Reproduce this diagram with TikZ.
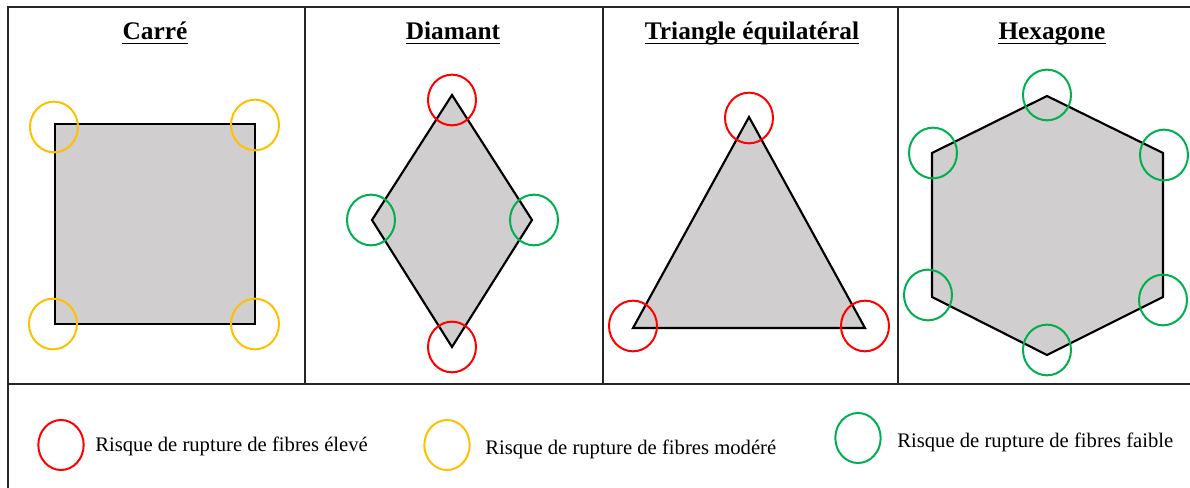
\documentclass[tikz,border=0pt]{standalone}
\usepackage{fontspec}
\setmainfont{Liberation Serif}
\usepackage{xcolor}
\usepackage{tikz}
\usetikzlibrary{shapes.geometric, positioning}

\definecolor{riskred}{HTML}{FF0000}
\definecolor{riskyellow}{HTML}{FFC000}
\definecolor{riskgreen}{HTML}{00B050}
\definecolor{shapegray}{HTML}{D0CECE}

\begin{document}
\begin{tikzpicture}[
    x=0.75pt, y=-0.75pt,
    grid/.style={line width=1.1pt, black!85},
    title/.style={anchor=base, inner sep=0pt, font=\fontsize{19}{22}\selectfont\bfseries},
    uline/.style={line width=1.3pt},
    legtext/.style={anchor=base west, font=\fontsize{15.5}{18}\selectfont, inner sep=0pt},
    fibre/.style={fill=shapegray, draw=black, line width=1.6pt, line join=miter},
    marker/.style={ellipse, line width=1.5pt, inner sep=0pt, minimum width=36pt, minimum height=38pt},
    high/.style={marker, draw=riskred},
    mid/.style={marker, draw=riskyellow},
    low/.style={marker, draw=riskgreen},
    legmark/.style={ellipse, line width=1.5pt, inner sep=0pt, minimum width=34pt, minimum height=37.5pt}
]
\useasboundingbox (0,0) rectangle (1190,488);

% Table
\draw[grid] (1190,7) -- (8,7) -- (8,488);
\draw[grid] (8,384) -- (1190,384);
\foreach \xs in {305,603,898}
  \draw[grid] (\xs,7) -- (\xs,384);

% Titles
\node[title] (tcarre) at (155,40) {Carré};
\node[title] (tdiam) at (453,40) {Diamant};
\node[title] (ttri) at (752,40) {Triangle équilatéral};
\node[title] (thex) at (1052,40) {Hexagone};
\foreach \t in {tcarre,tdiam,ttri,thex}
  \draw[uline] ([yshift=-2.6pt]\t.base west) -- ([yshift=-2.6pt]\t.base east);

% Square
\draw[fibre] (55,124) rectangle (255,324);
\node[mid] (sq1) at (54,127) {};
\node[mid] (sq2) at (255,125) {};
\node[mid] (sq3) at (53,324) {};
\node[mid] (sq4) at (255,324) {};

% Diamond
\draw[fibre] (452,95) -- (532,220) -- (452,347) -- (372,220) -- cycle;
\node[high] (di1) at (452,100) {};
\node[high] (di2) at (452,347) {};
\node[low] (di3) at (371,220) {};
\node[low] (di4) at (534,220) {};

% Equilateral triangle
\draw[fibre] (749,117) -- (865,328) -- (633,328) -- cycle;
\node[high] (tr1) at (749,118) {};
\node[high] (tr2) at (633,326) {};
\node[high] (tr3) at (865,326) {};

% Hexagon
\draw[fibre] (1047,96) -- (1163,153) -- (1163,297) -- (1047,355) -- (932,297) -- (932,153) -- cycle;
\node[low] (hx1) at (1047,95) {};
\node[low] (hx2) at (1164,155) {};
\node[low] (hx3) at (1163,300) {};
\node[low] (hx4) at (1047,350) {};
\node[low] (hx5) at (928,295) {};
\node[low] (hx6) at (933,153) {};

% Legend
\node[legmark, draw=riskred] (lhigh) at (61,445) {};
\node[legtext] (thigh) at (95,452) {Risque de rupture de fibres élevé};
\node[legmark, draw=riskyellow] (lmid) at (447,445) {};
\node[legtext] (tmid) at (485,455) {Risque de rupture de fibres modéré};
\node[legmark, draw=riskgreen] (llow) at (858,438) {};
\node[legtext] (tlow) at (897,448) {Risque de rupture de fibres faible};

\end{tikzpicture}
\end{document}
